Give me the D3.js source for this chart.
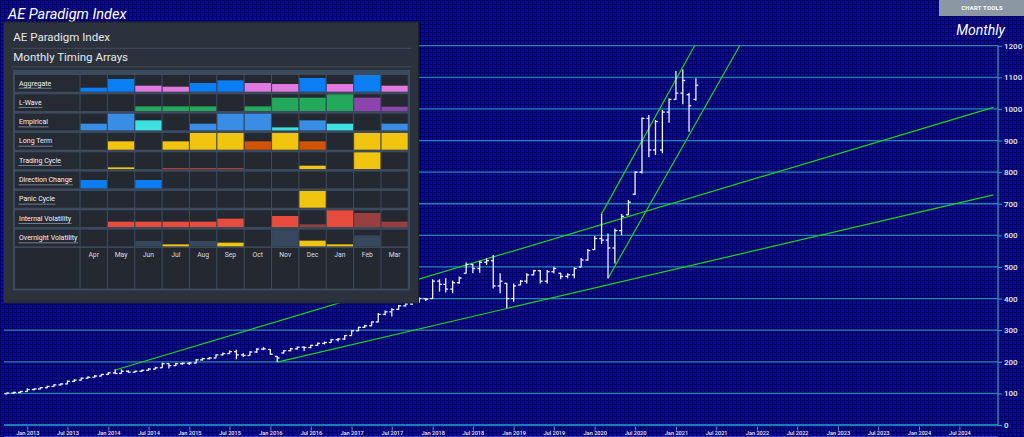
<!DOCTYPE html>
<html><head><meta charset="utf-8">
<script src="https://cdn.jsdelivr.net/npm/d3@7"></script>
<style>html,body{margin:0;padding:0;background:#07078a;overflow:hidden}svg{display:block}</style>
</head><body><svg id="c" width="1024" height="437"></svg>
<script>
// ---------- DATA ----------
const firstMonth = "2012-10";
const priceOpen  = [99,101,103,106,112,114,118,122,127,130,138,142,148,151,155,160,165,163,170,167,170,173,177,181,194,188,194,195,196,206,210,212,222,226,232,222,220,231,240,239,217,228,235,241,246,245,252,258,261,270,272,283,298,309,314,326,350,358,366,377,383,388,400,400,455,445,430,450,480,508,495,515,520,440,448,400,443,455,475,488,455,485,480,470,475,500,522,555,590,585,560,615,665,730,800,970,870,870,990,1030,1050,1045,1030];
const priceHigh  = [103,105,108,116,116,120,124,129,132,141,145,150,154,158,162,168,176,176,173,172,175,180,184,197,195,197,198,199,209,213,215,224,229,236,238,227,233,244,247,240,218,237,244,248,249,254,261,264,273,275,285,301,311,317,328,354,362,369,380,386,391,404,402,461,461,464,457,470,514,509,520,527,538,480,449,448,459,480,491,490,490,501,482,480,499,528,557,598,668,606,622,668,712,803,973,981,965,997,1033,1120,1125,1051,1097];
const priceLow   = [97,99,101,105,110,113,116,121,125,129,136,141,146,150,154,158,161,162,165,165,168,172,176,180,179,187,190,190,195,204,207,211,220,224,208,215,219,228,237,222,199,226,233,238,234,243,251,255,260,264,269,283,297,307,313,325,347,343,365,375,380,387,392,399,422,419,417,447,479,480,482,506,432,417,369,390,442,448,474,448,448,480,461,464,464,499,520,554,573,464,511,601,664,728,796,847,854,860,956,1028,1015,928,1026];
const priceClose = [101,103,106,112,114,118,122,127,130,138,142,148,151,155,160,165,163,170,167,170,173,177,181,194,188,194,195,196,206,210,212,222,226,232,222,220,231,240,241,224,212,235,241,246,245,252,258,261,270,272,283,298,309,314,326,350,358,365,377,383,388,400,398,455,445,430,450,465,508,495,515,520,440,455,400,440,455,475,488,455,485,495,470,475,495,522,552,590,585,560,615,660,705,800,970,870,960,990,1030,1050,1090,1010,1075];

const trendLines = [
  [["2014-02-01",174],["2024-12-01",1005]],
  [["2016-02-01",199],["2024-12-01",728]],
  [["2020-02-01",668],["2021-03-26",1200]],
  [["2020-03-01",464],["2021-10-15",1200]]
];

const yTickValues = [0,100,200,300,400,500,600,700,800,900,1000,1100,1200];
const xTickLabels = ["Jan 2013","Jul 2013","Jan 2014","Jul 2014","Jan 2015","Jul 2015","Jan 2016","Jul 2016","Jan 2017","Jul 2017","Jan 2018","Jul 2018","Jan 2019","Jul 2019","Jan 2020","Jul 2020","Jan 2021","Jul 2021","Jan 2022","Jul 2022","Jan 2023","Jul 2023","Jan 2024","Jul 2024"];

const panelMonths = ["Apr","May","Jun","Jul","Aug","Sep","Oct","Nov","Dec","Jan","Feb","Mar"];
const rowLabels = ["Aggregate","L-Wave","Empirical","Long Term","Trading Cycle","Direction Change","Panic Cycle","Internal Volatility","Overnight Volatility"];
// each entry: [level 0..1, colour key]
const aggregate   = [[0.24,"B"],[0.76,"B"],[0.36,"P"],[0.30,"P"],[0.52,"B"],[0.68,"B"],[0.52,"P"],[0.46,"P"],[0.82,"B"],[0.46,"P"],[1.0,"B"],[0.36,"P"]];
const lWave       = [[0,""],[0,""],[0.28,"G"],[0.28,"G"],[0.28,"G"],[0,""],[0.28,"G"],[0.80,"G"],[0.80,"G"],[1.0,"G"],[0.80,"V"],[0.26,"V"]];
const empirical   = [[0.40,"L"],[1.0,"L"],[0.60,"C"],[0,""],[0.40,"L"],[1.0,"L"],[1.0,"L"],[0.18,"C"],[0.60,"L"],[0.40,"C"],[0,""],[0.40,"L"]];
const longTerm    = [[0,""],[0.5,"Y"],[0,""],[0.5,"Y"],[1.0,"Y"],[1.0,"Y"],[0.5,"O"],[1.0,"Y"],[0.5,"O"],[0,""],[1.0,"Y"],[1.0,"Y"]];
const tradingCycle= [[0,""],[0.10,"Y"],[0,""],[0.06,"T"],[0.06,"T"],[0.06,"T"],[0,""],[0,""],[0.20,"Y"],[0,""],[1.0,"Y"],[0,""]];
const directionChange = [[0.5,"B"],[0,""],[0.5,"B"],[0,""],[0,""],[0,""],[0,""],[0,""],[0,""],[0,""],[0,""],[0,""]];
const panicCycle  = [[0,""],[0,""],[0,""],[0,""],[0,""],[0,""],[0,""],[0,""],[1.0,"Y"],[0,""],[0,""],[0,""]];
const internalVol = [[0,""],[0.32,"R"],[0.32,"R"],[0.32,"R"],[0.32,"R"],[0.50,"R"],[0,""],[0.66,"R"],[0.16,"D"],[1.0,"R"],[0.84,"D"],[0.32,"D"]];
const overnightVol= [[0,""],[0,""],[0.32,"S"],[0.12,"Y"],[0.32,"S"],[0.22,"Y"],[0,""],[1.0,"S"],[0.34,"Y"],[0.12,"Y"],[0.66,"S"],[0,""]];
const panelRows = [aggregate,lWave,empirical,longTerm,tradingCycle,directionChange,panicCycle,internalVol,overnightVol];
const cellColors = {B:"#0b7ef3",P:"#e07ae0",G:"#23a85c",V:"#8e44ad",L:"#3a8de4",C:"#3fe0e2",Y:"#f1c40f",O:"#d35400",T:"#c0392b",R:"#e74c3c",D:"#97403f",S:"#37475d"};

// ---------- DRAW ----------
const W=1024,H=437;
const svg=d3.select("#c");
const defs=svg.append("defs");
const pat=defs.append("pattern").attr("id","grid").attr("width",4).attr("height",4).attr("patternUnits","userSpaceOnUse");
pat.append("rect").attr("width",4).attr("height",4).attr("fill","#0a0a9a");
pat.append("path").attr("d","M0,0.5H4M0.5,0V4").attr("stroke","#000062").attr("stroke-width",1);
svg.append("rect").attr("width",W).attr("height",H).attr("fill","url(#grid)");

const parse=d3.timeParse("%Y-%m-%d");
const x=d3.scaleTime().domain([new Date(2013,0,1),new Date(2024,0,1)]).range([27.3,919]);
const y=d3.scaleLinear().domain([0,1200]).range([425,45.7]);
const plotL=4, plotR=998;

// gridlines
svg.append("g").selectAll("line").data(yTickValues.filter(v=>v>0)).join("line")
  .attr("x1",plotL).attr("x2",plotR).attr("y1",d=>y(d)).attr("y2",d=>y(d))
  .attr("stroke","#2b80b8").attr("stroke-width",1.3);
svg.append("line").attr("x1",plotL).attr("x2",plotR).attr("y1",y(0)).attr("y2",y(0))
  .attr("stroke","#22a6cf").attr("stroke-width",1.4);
svg.append("line").attr("x1",plotR).attr("x2",plotR).attr("y1",y(1200)).attr("y2",y(0))
  .attr("stroke","#22a0c8").attr("stroke-width",1.2);

// right axis
const yAxis=svg.append("g").attr("transform",`translate(${plotR},0)`)
  .call(d3.axisRight(y).tickValues(yTickValues).tickFormat(d3.format("d")).tickSize(4).tickPadding(2));
yAxis.select(".domain").remove();
yAxis.selectAll("line").attr("stroke","#2d9cc8");
yAxis.selectAll("text").attr("fill","#e6e8ee").attr("font-family","Roboto, sans-serif").attr("font-size",8).attr("font-weight",500);

// bottom axis
const xTickDates=xTickLabels.map(d3.timeParse("%b %Y"));
const xAxis=svg.append("g").attr("transform","translate(0,426.5)")
  .call(d3.axisBottom(x).tickValues(xTickDates).tickFormat(d3.timeFormat("%b %Y")).tickSize(4).tickPadding(1));
xAxis.select(".domain").remove();
xAxis.selectAll("line").attr("stroke","#9aa4c8").attr("stroke-width",0.8);
xAxis.selectAll("text").attr("fill","#e8e8f0").attr("font-family","Roboto, sans-serif").attr("font-size",5.6).attr("font-weight",500);
svg.append("line").attr("x1",plotL).attr("x2",plotR).attr("y1",436.5).attr("y2",436.5).attr("stroke","#3b3bc0").attr("stroke-width",1);

// trend lines
const line=d3.line().x(d=>x(parse(d[0]))).y(d=>y(d[1]));
svg.append("g").selectAll("path").data(trendLines).join("path")
  .attr("d",line).attr("fill","none").attr("stroke","#1fd21f").attr("stroke-width",1.2);

// price bars
const start=d3.timeParse("%Y-%m")(firstMonth);
const months=priceOpen.map((_,i)=>d3.timeMonth.offset(start,i));
const bars=svg.append("g").attr("stroke","#f2f2f6").attr("stroke-width",1.3).attr("fill","none");
months.forEach((m,i)=>{
  const cx=x(m);
  bars.append("line").attr("x1",cx).attr("x2",cx).attr("y1",y(priceLow[i])).attr("y2",y(priceHigh[i]));
  bars.append("line").attr("x1",cx-2.4).attr("x2",cx).attr("y1",y(priceOpen[i])).attr("y2",y(priceOpen[i]));
  bars.append("line").attr("x1",cx).attr("x2",cx+2.4).attr("y1",y(priceClose[i])).attr("y2",y(priceClose[i]));
});

// titles
svg.append("text").attr("x",8).attr("y",18.5).text("AE Paradigm Index")
  .attr("fill","#ffffff").attr("font-family","Roboto, sans-serif").attr("font-size",14.5).attr("font-style","italic");
svg.append("text").attr("x",1005).attr("y",34.5).attr("text-anchor","end").text("Monthly")
  .attr("fill","#ffffff").attr("font-family","Roboto, sans-serif").attr("font-size",14).attr("font-style","italic");
svg.append("rect").attr("x",939).attr("y",0).attr("width",85).attr("height",16).attr("fill","#8c97a4");
svg.append("text").attr("x",982).attr("y",10.3).attr("text-anchor","middle").text("CHART TOOLS")
  .attr("fill","#ffffff").attr("font-family","Roboto, sans-serif").attr("font-size",5.8).attr("font-weight",700).attr("letter-spacing",0.3);

// ---------- PANEL ----------
const P=svg.append("g");
P.append("rect").attr("x",3.5).attr("y",22).attr("width",415).attr("height",281).attr("fill","#2b323d").attr("stroke","#1d222a").attr("stroke-width",1);
P.append("text").attr("x",13.3).attr("y",41).text("AE Paradigm Index")
  .attr("fill","#e6e9ee").attr("font-family","Roboto, sans-serif").attr("font-size",11.5);
P.append("line").attr("x1",11).attr("x2",411).attr("y1",48.3).attr("y2",48.3).attr("stroke","#414b5a").attr("stroke-width",1);
P.append("text").attr("x",13.3).attr("y",61).text("Monthly Timing Arrays")
  .attr("fill","#e6e9ee").attr("font-family","Roboto, sans-serif").attr("font-size",11.5);
P.append("line").attr("x1",11).attr("x2",411).attr("y1",66.8).attr("y2",66.8).attr("stroke","#414b5a").attr("stroke-width",1);

const tblX=13, tblY=70, tblW=397, tblH=220.5;
P.append("rect").attr("x",tblX).attr("y",tblY).attr("width",tblW).attr("height",tblH).attr("fill","#3c4a5e");
const colX=d3.scaleBand().domain(panelMonths).range([80,408.3]).paddingInner(0.04).paddingOuter(0.02);
const rowStep=19.33, rowTop=75, cellH=16.7;
const rowY=i=>rowTop+i*rowStep;

rowLabels.forEach((lab,i)=>{
  const ry=rowY(i);
  P.append("rect").attr("x",15).attr("y",ry).attr("width",64.5).attr("height",cellH).attr("fill","#252a33");
  const t=P.append("text").attr("x",19).attr("y",ry+10.5).text(lab)
    .attr("fill","#f2f4f7").attr("font-family","Roboto, sans-serif").attr("font-size",7);
  const tw=t.node().getComputedTextLength();
  P.append("line").attr("x1",18.5).attr("x2",19.5+tw).attr("y1",ry+13.2).attr("y2",ry+13.2).attr("stroke","#8793a6").attr("stroke-width",0.8);
  panelRows[i].forEach((c,j)=>{
    const cx=colX(panelMonths[j]), cw=colX.bandwidth();
    P.append("rect").attr("x",cx).attr("y",ry).attr("width",cw).attr("height",cellH).attr("fill","#242830");
    if(c[0]>0){
      P.append("rect").attr("x",cx).attr("y",ry+cellH*(1-c[0])).attr("width",cw).attr("height",cellH*c[0]).attr("fill",cellColors[c[1]]);
    }
  });
});
// month label row
const my=rowY(9)-1;
const mh=288.5-my;
P.append("rect").attr("x",15).attr("y",my).attr("width",64.5).attr("height",mh).attr("fill","#242830");
panelMonths.forEach(m=>{
  P.append("rect").attr("x",colX(m)).attr("y",my).attr("width",colX.bandwidth()).attr("height",mh).attr("fill","#242830");
  P.append("text").attr("x",colX(m)+colX.bandwidth()/2).attr("y",my+9.3).attr("text-anchor","middle").text(m)
    .attr("fill","#d8dde4").attr("font-family","Roboto, sans-serif").attr("font-size",6.8);
});
</script></body></html>
